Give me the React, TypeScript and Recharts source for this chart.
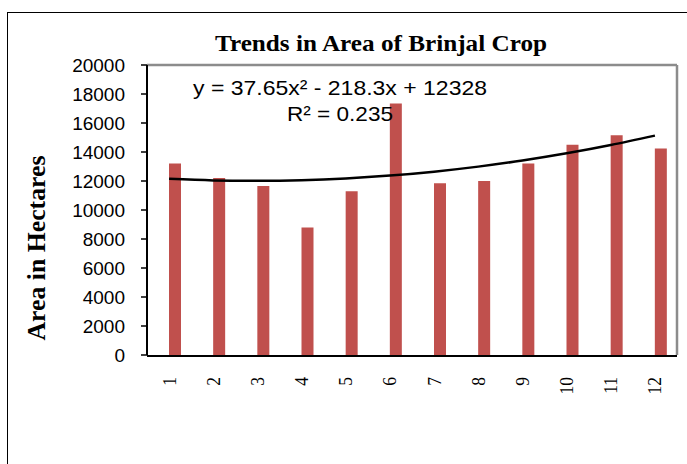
import React from "react";
import {
  Bar,
  ComposedChart,
  Line,
  ReferenceLine,
  XAxis,
  YAxis,
} from "recharts";

const years = ["1", "2", "3", "4", "5", "6", "7", "8", "9", "10", "11", "12"];
const area = [13200, 12200, 11650, 8800, 11300, 17350, 11850, 12000, 13200, 14500, 15150, 14250];
// polynomial trendline as drawn on the chart
const trend = [12147, 12042, 12012, 12057, 12178, 12374, 12645, 12991, 13413, 13910, 14482, 15130];
const yTicks = [0, 2000, 4000, 6000, 8000, 10000, 12000, 14000, 16000, 18000, 20000];
const boundaryTicks = [0, 1, 2, 3, 4, 5, 6, 7, 8, 9, 10, 11, 12];

const rows = years.map((year, i) => ({ year, area: area[i], trend: trend[i] }));

const SERIF = "'Times New Roman', 'Liberation Serif', serif";
const SANS = "Arial, 'Liberation Sans', sans-serif";

const YearTick = (props: any) => {
  const { x, y, payload } = props;
  return (
    <text
      transform={`translate(${x + 6.5},${y + 22}) scale(1.12,1) rotate(-90)`}
      textAnchor="end"
      fontFamily={SERIF}
      fontSize={17.5}
      fill="#000"
    >
      {payload.value}
    </text>
  );
};

export default function App() {
  return (
    <div
      style={{
        position: "fixed",
        left: 0,
        top: 0,
        width: 687,
        height: 464,
        overflow: "hidden",
        background: "#fff",
      }}
    >
      <div
        style={{
          position: "absolute",
          left: 7,
          top: 12,
          width: 720,
          height: 480,
          border: "1.5px solid #000",
        }}
      />
      <div style={{ position: "absolute", left: 0, top: 0 }}>
        <ComposedChart
          width={687}
          height={464}
          data={rows}
          margin={{ top: 65, right: 9, bottom: 107, left: 0 }}
          barGap={0}
        >
          <XAxis
            xAxisId="edges"
            type="number"
            domain={[0, 12]}
            ticks={boundaryTicks}
            height={1}
            tick={false}
            tickSize={6}
            tickLine={{ stroke: "#000", strokeWidth: 1.5 }}
            axisLine={{ stroke: "#000", strokeWidth: 2 }}
          />
          <XAxis
            dataKey="year"
            height={1}
            axisLine={false}
            tickLine={false}
            tickSize={0}
            tickMargin={0}
            interval={0}
            tick={<YearTick />}
          />
          <YAxis
            domain={[0, 20000]}
            ticks={yTicks}
            width={147}
            interval={0}
            tickSize={6}
            tickMargin={16}
            tick={{ fill: "#000", fontFamily: SANS, fontSize: 19 }}
            tickLine={{ stroke: "#000", strokeWidth: 1.5 }}
            axisLine={{ stroke: "#000", strokeWidth: 2 }}
          />
          <YAxis
            yAxisId="frame"
            orientation="right"
            width={1}
            domain={[0, 20000]}
            tick={false}
            tickLine={false}
            axisLine={{ stroke: "#8c8c8c", strokeWidth: 2.5 }}
          />
          <ReferenceLine y={20000} stroke="#8c8c8c" strokeWidth={2.5} />
          <Bar dataKey="spacer" fill="none" barSize={12} isAnimationActive={false} />
          <Bar dataKey="area" fill="#C0504D" barSize={12} isAnimationActive={false} />
          <Line
            dataKey="trend"
            type="natural"
            stroke="#000"
            strokeWidth={2.5}
            dot={false}
            isAnimationActive={false}
          />
        </ComposedChart>
      </div>
      <svg
        width={687}
        height={464}
        style={{ position: "absolute", left: 0, top: 0, pointerEvents: "none" }}
      >
        <text
          x={381}
          y={51}
          textAnchor="middle"
          fontFamily={SERIF}
          fontWeight="bold"
          fontSize={22.5}
          textLength={332}
          lengthAdjust="spacingAndGlyphs"
        >
          Trends in Area of Brinjal Crop
        </text>
        <text
          transform="translate(45,248) rotate(-90)"
          textAnchor="middle"
          fontFamily={SERIF}
          fontWeight="bold"
          fontSize={24.5}
          textLength={185}
          lengthAdjust="spacingAndGlyphs"
        >
          Area in Hectares
        </text>
        <text
          x={193}
          y={95}
          fontFamily={SANS}
          fontSize={21}
          textLength={294}
          lengthAdjust="spacingAndGlyphs"
        >
          y = 37.65x² - 218.3x + 12328
        </text>
        <text
          x={287}
          y={121}
          fontFamily={SANS}
          fontSize={21}
          textLength={106}
          lengthAdjust="spacingAndGlyphs"
        >
          R² = 0.235
        </text>
      </svg>
    </div>
  );
}
